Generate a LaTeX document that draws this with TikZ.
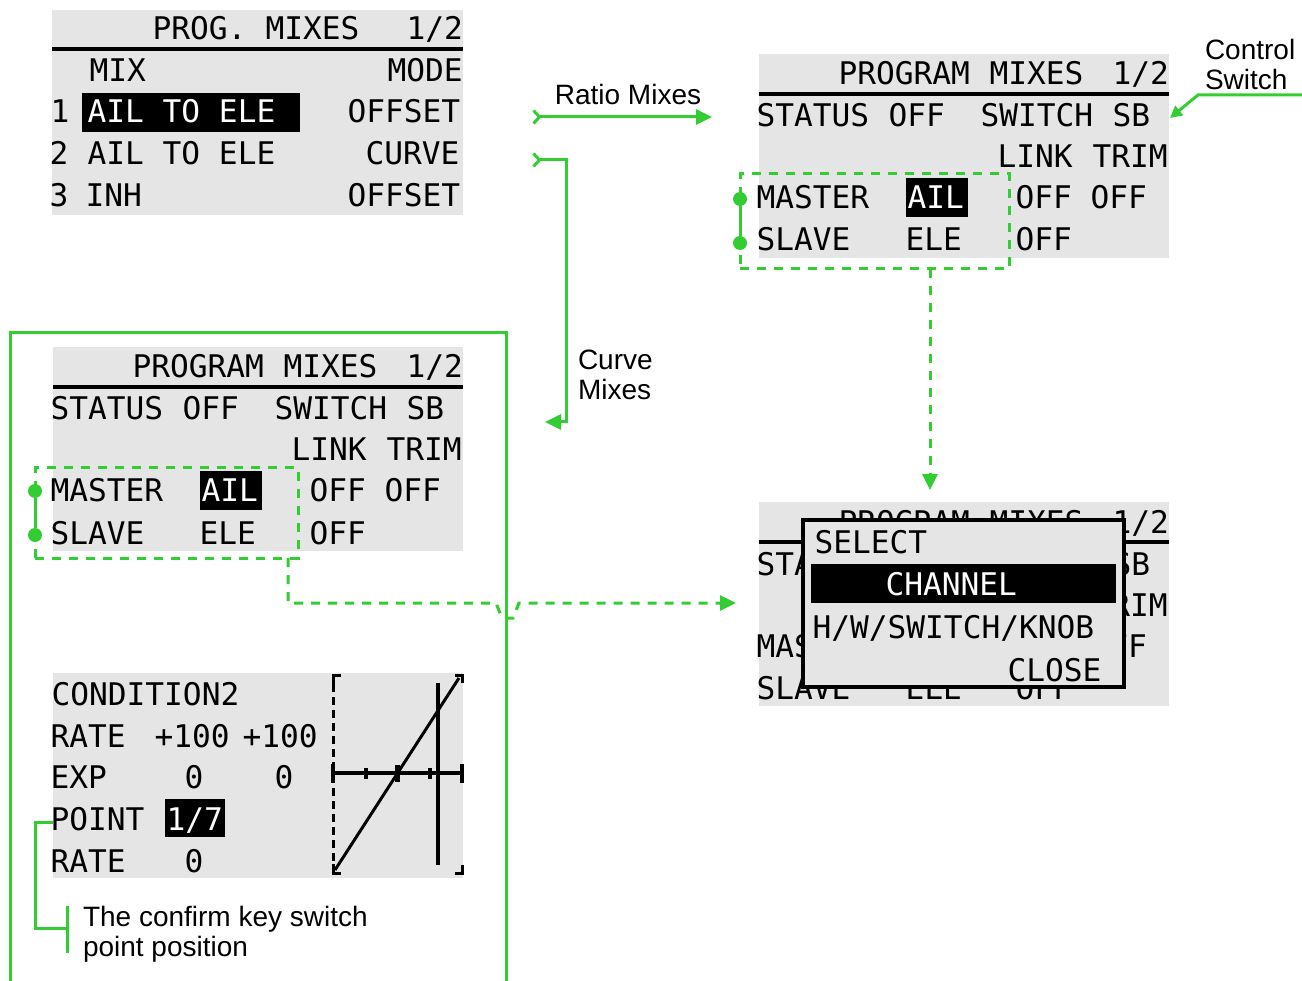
\documentclass[tikz,border=0pt]{standalone}
\usepackage{fontspec}
\setmainfont{Liberation Sans}
\newfontfamily\lcdfont{DejaVu Sans Mono}
\usetikzlibrary{arrows.meta,calc}
\definecolor{grn}{RGB}{51,204,51}
\definecolor{lcdgray}{RGB}{229,229,229}
\frenchspacing
\tikzset{
  panel/.style={fill=lcdgray, draw=none, anchor=north west, minimum width=410pt, minimum height=204pt, inner sep=0pt, outer sep=0pt},
  lcd/.style={anchor=base west, inner sep=0pt, outer sep=0pt, xshift=-2.5pt, font=\lcdfont\fontsize{31.2}{36}\selectfont, text=black},
  lcdw/.style={lcd, text=white},
  hlbox/.style={fill=black, draw=none, inner sep=0pt, outer sep=0pt, anchor=north west},
  lcdrule/.style={line width=4pt, black},
  gline/.style={color=grn, line width=3pt},
  gdash/.style={color=grn, line width=3pt, dash pattern=on 9pt off 8pt},
  gdot/.style={circle, fill=grn, draw=none, inner sep=0pt, minimum size=14pt},
  selbox/.style={draw=grn, line width=3pt, dash pattern=on 9pt off 8pt, rectangle, inner sep=0pt, outer sep=0pt, anchor=north west},
  lbl/.style={inner sep=0pt, outer sep=0pt, font=\fontsize{28}{30}\selectfont, align=left, anchor=north west},
  gtip/.style={-{Triangle[length=16pt,width=15pt]}},
  gtail/.style={{Straight Barb[reversed,length=6pt,width=13pt]}-{Triangle[length=16pt,width=15pt]}},
  graphln/.style={black, line width=3pt},
}
% PROGRAM MIXES panel: #1 name, #2 x0, #3 y0
\newcommand\pmpanel[3]{%
  \begin{scope}[shift={(#2,#3)}]
    \node[panel] (#1) at (0,0) {};
    \node[lcd] (#1-t1) at (82,31) {PROGRAM};
    \node[lcd] (#1-t2) at (233,31) {MIXES};
    \node[lcd] (#1-t3) at (356,31) {1/2};
    \draw[lcdrule] (#1.west |- 0,40) -- (#1.east |- 0,40);
    \node[lcd] (#1-s1) at (0,73) {STATUS};
    \node[lcd] (#1-s2) at (132,73) {OFF};
    \node[lcd] (#1-s3) at (224,73) {SWITCH};
    \node[lcd] (#1-s4) at (356,73) {SB};
    \node[lcd] (#1-l1) at (241,114) {LINK};
    \node[lcd] (#1-l2) at (336,114) {TRIM};
    \node[lcd] (#1-m1) at (0,155) {MASTER};
    \node[hlbox, minimum width=62pt, minimum height=39pt] (#1-hb) at (147,124) {};
    \node[lcdw] (#1-m2) at (151,155) {AIL};
    \node[lcd] (#1-m3) at (259,155) {OFF};
    \node[lcd] (#1-m4) at (334,155) {OFF};
    \node[lcd] (#1-v1) at (0,197) {SLAVE};
    \node[lcd] (#1-v2) at (149,197) {ELE};
    \node[lcd] (#1-v3) at (259,197) {OFF};
  \end{scope}}
\begin{document}
\begin{tikzpicture}[x=1pt, y=-1pt]
\useasboundingbox (0,0) rectangle (1302,981);

% ---------- top-left: PROG. MIXES list ----------
\node[panel, minimum width=411pt, minimum height=205pt] (panelA) at (52,10) {};
\node[lcd] (a-t1) at (155,40) {PROG.};
\node[lcd] (a-t2) at (268,40) {MIXES};
\node[lcd] (a-t3) at (409,40) {1/2};
\draw[lcdrule] (panelA.west |- 0,49.5) -- (panelA.east |- 0,49.5);
\node[lcd] (a-h1) at (92,82) {MIX};
\node[lcd] (a-h2) at (390,82) {MODE};
\node[lcd] (a-r1n) at (53,123) {1};
\node[hlbox, minimum width=218pt, minimum height=39pt] (a-hb) at (82,93) {};
\node[lcdw] (a-r1a) at (90,123) {AIL TO ELE};
\node[lcd] (a-r1b) at (350,123) {OFFSET};
\node[lcd] (a-r2n) at (52,165) {2};
\node[lcd] (a-r2a) at (90,165) {AIL TO ELE};
\node[lcd] (a-r2b) at (368,165) {CURVE};
\node[lcd] (a-r3n) at (52,207) {3};
\node[lcd] (a-r3a) at (88,207) {INH};
\node[lcd] (a-r3b) at (350,207) {OFFSET};

% ---------- PROGRAM MIXES panels ----------
\pmpanel{panelB}{759}{54}
\pmpanel{panelC}{53}{347}

% ---------- panel D (under the popup: only the parts that show) ----------
\begin{scope}[shift={(759,502)}]
  \node[panel] (panelD) at (0,0) {};
  \node[lcd] (panelD-t1) at (82,31) {PROGRAM};
  \node[lcd] (panelD-t2) at (233,31) {MIXES};
  \node[lcd] (panelD-t3) at (356,31) {1/2};
  \draw[lcdrule] (panelD.west |- 0,40) -- (panelD.east |- 0,40);
  \node[lcd] (panelD-s1) at (0,73) {STATUS};
  \node[lcd] (panelD-s4) at (356,73) {SB};
  \node[lcd] (panelD-l2) at (336,114) {TRIM};
  \node[lcd] (panelD-m1) at (0,155) {MASTER};
  \node[lcd] (panelD-m4) at (334,155) {OFF};
  \node[lcd] (panelD-v1) at (0,197) {SLAVE};
  \node[lcd] (panelD-v2) at (149,197) {ELE};
  \node[lcd] (panelD-v3) at (259,197) {OFF};
\end{scope}

% ---------- popup over panel D ----------
\node[draw=black, line width=3.5pt, fill=lcdgray, minimum width=321pt, minimum height=167pt, anchor=north west, inner sep=0pt, outer sep=0pt] (popup) at (803,520) {};
\node[lcd] (p-sel) at (817,553) {SELECT};
\node[hlbox, minimum width=305pt, minimum height=39pt] (p-bar) at (811,564) {};
\node[lcdw] (p-ch) at (888,595) {CHANNEL};
\node[lcd] (p-hw) at (815,638) {H/W/SWITCH/KNOB};
\node[lcd] (p-cl) at (1010,681) {CLOSE};

% ---------- curve panel ----------
\node[panel, minimum width=410pt, minimum height=205pt] (panelE) at (53,673) {};
\node[lcd] (e-c) at (54,705) {CONDITION2};
\node[lcd] (e-r1) at (53,747) {RATE};
\node[lcd] (e-r2) at (157,747) {+100};
\node[lcd] (e-r3) at (245,747) {+100};
\node[lcd] (e-x1) at (53,788) {EXP};
\node[lcd] (e-x2) at (187,788) {0};
\node[lcd] (e-x3) at (277,788) {0};
\node[lcd] (e-p1) at (53,830) {POINT};
\node[hlbox, minimum width=60pt, minimum height=38pt] (e-pb) at (165,799) {};
\node[lcdw] (e-p2) at (169,830) {1/7};
\node[lcd] (e-q1) at (53,872) {RATE};
\node[lcd] (e-q2) at (187,872) {0};
% graph
\draw[graphln] (341,675) -- (333,675) -- (333,684);
\draw[graphln, dash pattern=on 8pt off 5pt] (333,684) -- (333,864);
\draw[graphln] (333,864) -- (333,873) -- (341,873);
\draw[graphln] (455,675) -- (462,675) -- (462,683);
\draw[graphln] (462,865) -- (462,873) -- (455,873);
\draw[black, line width=3.5pt] (333,773) -- (462,773);
\draw[black, line width=4pt] (333,764) -- (333,783);
\draw[black, line width=4pt] (462,764) -- (462,783);
\draw[black, line width=4pt] (366,768) -- (366,779);
\draw[black, line width=5pt] (397,765) -- (397,782);
\draw[black, line width=4pt] (430,768) -- (430,779);
\draw[black, line width=4pt] (438,683) -- (438,865);
\draw[graphln] (335,870) -- (459,678);

% ---------- selection boxes ----------
\node[selbox, minimum width=269pt, minimum height=95pt] (selB) at (740,174) {};
\node[gdot] (selB-d1) at (740,199) {};
\node[gdot] (selB-d2) at (740,243) {};
\draw[gline] (selB-d1) -- (selB-d2);
\node[selbox, minimum width=263pt, minimum height=90pt] (selC) at (35,468) {};
\node[gdot] (selC-d1) at (35,491) {};
\node[gdot] (selC-d2) at (35,535) {};
\draw[gline] (selC-d1) -- (selC-d2);

% ---------- dashed connectors ----------
\coordinate (dnX) at (930,0);
\draw[gdash, gtip, shorten >=12pt] (selB.south -| dnX) -- (panelD.north -| dnX);
\coordinate (cX) at (288,0);
\coordinate (hopY) at (0,603);
\draw[gdash, gtip, shorten >=23pt] (selC.south -| cX) -- (cX |- hopY) -- (496,603) -- (502,618) -- (513,618) -- (519,603) -- (panelD.west |- hopY);

% ---------- big frame ----------
\coordinate (frA) at (10,981);
\coordinate (frB) at (10,333);
\coordinate (frC) at (506,333);
\coordinate (frD) at (506,981);
\draw[gline] (frA) -- (frB) -- (frC) -- (frD);

% ---------- ratio / curve arrows ----------
\coordinate (ratioS) at (532,117);
\coordinate (ratioE) at (712,117);
\draw[gline, gtail] (ratioS) -- (ratioE);
\node[lbl, anchor=base] (ratioLbl) at (628,105) {Ratio Mixes};
\coordinate (curveS) at (532,160);
\coordinate (curveE) at (545,422);
\coordinate (cbend) at (566,0);
\draw[gline, gtail] (curveS) -- (curveS -| cbend) -- (curveE -| cbend) -- (curveE);
\node[lbl] (curveLbl) at (578,349.6) {Curve\\Mixes};

% ---------- control switch ----------
\node[lbl] (ctrlLbl) at (1205,39.6) {Control\\Switch};
\coordinate (ctrlS) at (1302,95);
\coordinate (ctrlK) at (1198,95);
\coordinate (ctrlE) at (1170,118);
\draw[gline, -{Triangle[length=12pt,width=12pt]}] (ctrlS) -- (ctrlK) -- (ctrlE);

% ---------- point annotation ----------
\coordinate (ptA) at (53,822);
\coordinate (ptB) at (35,822);
\coordinate (ptC) at (35,928);
\coordinate (ptD) at (67,928);
\draw[gline] (ptA) -- (ptB) -- (ptC) -- (ptD);
\coordinate (brT) at (67,906);
\coordinate (brB) at (67,953);
\draw[gline] (brT) -- (brB);
\node[lbl] (noteLbl) at (83,906.6) {The confirm key switch\\point position};
\end{tikzpicture}
\end{document}
